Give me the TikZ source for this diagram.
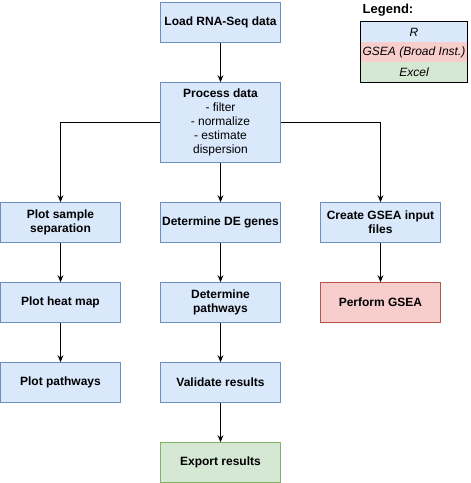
\documentclass[tikz,border=0pt]{standalone}
\usepackage{fontspec}
\setmainfont{Liberation Sans}
\usetikzlibrary{arrows.meta}

\definecolor{rfill}{HTML}{DAE8FC}
\definecolor{rline}{HTML}{6C8EBF}
\definecolor{gfill}{HTML}{F8CECC}
\definecolor{gline}{HTML}{B85450}
\definecolor{xfill}{HTML}{D5E8D4}
\definecolor{xline}{HTML}{82B366}

\tikzset{
	rbox/.style={shape=rectangle,draw=rline,fill=rfill,line width=0.8pt,minimum width=120pt,minimum height=40pt,inner sep=0pt,align=center,font=\fontsize{12}{14}\selectfont\bfseries},
	gbox/.style={rbox,draw=gline,fill=gfill},
	xbox/.style={rbox,draw=xline,fill=xfill},
	legrow/.style={shape=rectangle,minimum width=106pt,minimum height=20pt,inner sep=0pt,font=\fontsize{12}{14}\selectfont\itshape},
	flow/.style={-{Stealth[length=7pt,width=6pt,inset=2.5pt]},line width=0.8pt}
}

\begin{document}
\begin{tikzpicture}[x=1pt,y=-1pt]
	
	\useasboundingbox (0,0) rectangle (471,483);
	
	\node[rbox] (load) at (220.5,22.5) {Load RNA-Seq data};
	\node[rbox,minimum height=80pt,font=\fontsize{12}{14}\selectfont] (proc) at (220.5,122.5) {\textbf{Process data}\\- filter\\- normalize\\- estimate\\dispersion};
	
	\node[rbox] (sep)    at (60.5,222.5)  {Plot sample\\separation};
	\node[rbox] (de)     at (220.5,222.5) {Determine DE genes};
	\node[rbox] (gin)    at (380.5,222.5) {Create GSEA input\\files};
	\node[rbox] (heat)   at (60.5,302.5)  {Plot heat map};
	\node[rbox] (path)   at (220.5,302.5) {Determine\\pathways};
	\node[gbox] (gsea)   at (380.5,302.5) {Perform GSEA};
	\node[rbox] (ppath)  at (60.5,382.5)  {Plot pathways};
	\node[rbox] (valid)  at (220.5,382.5) {Validate results};
	\node[xbox] (export) at (220.5,462.5) {Export results};
	
	\path[flow] (load) edge (proc);
	\path[flow] (proc) edge (de);
	\draw[flow] (proc.west) -| (sep);
	\draw[flow] (proc.east) -| (gin);
	\path[flow] (sep) edge (heat);
	\path[flow] (heat) edge (ppath);
	\path[flow] (de) edge (path);
	\path[flow] (path) edge (valid);
	\path[flow] (valid) edge (export);
	\path[flow] (gin) edge (gsea);
	
	\node[font=\fontsize{13}{15}\selectfont\bfseries] (leg) at (388,10) {Legend:};
	\node[legrow,fill=rfill] (legr) at (414,32) {R};
	\node[legrow,fill=gfill] (legg) at (414,52) {GSEA (Broad Inst.)};
	\node[legrow,fill=xfill] (legx) at (414,72) {Excel};
	\draw[line width=0.8pt] (legr.north west) rectangle (legx.south east);
	
\end{tikzpicture}
\end{document}
